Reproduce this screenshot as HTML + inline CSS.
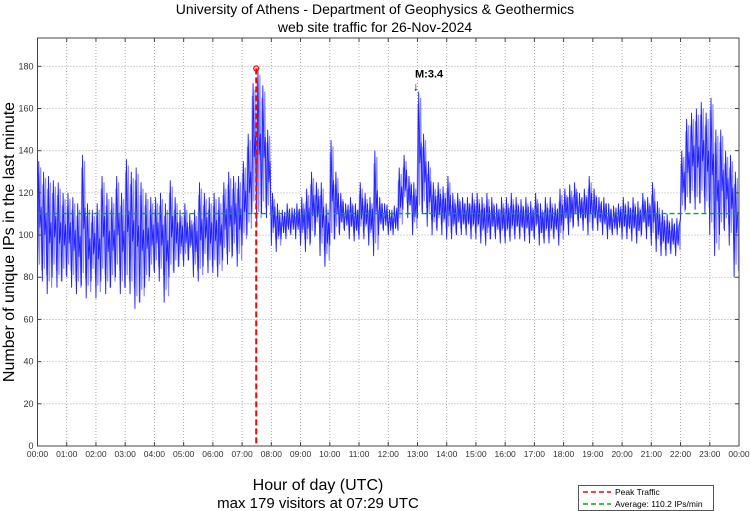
<!DOCTYPE html>
<html><head><meta charset="utf-8"><style>
body{margin:0;background:#fff;}
svg{display:block;font-family:"Liberation Sans",sans-serif;}
</style></head><body>
<svg id="chart" width="750" height="511" viewBox="0 0 750 511">
<rect width="750" height="511" fill="#fff"/>
<text x="375" y="14" text-anchor="middle" font-size="14">University of Athens - Department of Geophysics &amp; Geothermics</text>
<text x="375" y="32" text-anchor="middle" font-size="14">web site traffic for 26-Nov-2024</text>
<g id="grid"></g>
<g id="series"></g>
<g id="overlay"></g>
<rect x="37.5" y="38" width="701.5" height="408" fill="none" stroke="#444" stroke-width="1"/>
<g id="ticks" font-size="9" fill="#333"></g>
<text transform="translate(14,242) rotate(-90)" text-anchor="middle" font-size="16">Number of unique IPs in the last minute</text>
<text x="318" y="490" text-anchor="middle" font-size="16">Hour of day (UTC)</text>
<text x="318" y="508" text-anchor="middle" font-size="15">max 179 visitors at 07:29 UTC</text>
<g>
<rect x="578.5" y="485.5" width="135" height="25" fill="#fff" stroke="#555"/>
<line x1="583" y1="492" x2="611" y2="492" stroke="#f00" stroke-dasharray="5,3" stroke-width="1.5"/>
<text x="615" y="495" font-size="8.5">Peak Traffic</text>
<line x1="583" y1="504" x2="611" y2="504" stroke="#0a0" stroke-dasharray="5,3" stroke-width="1.5"/>
<text x="615" y="507" font-size="8.5">Average: 110.2 IPs/min</text>
</g>
</svg>
<script>
const yTicks=[0,20,40,60,80,100,120,140,160,180];
const xTickLabels=["00:00","01:00","02:00","03:00","04:00","05:00","06:00","07:00","08:00","09:00","10:00","11:00","12:00","13:00","14:00","15:00","16:00","17:00","18:00","19:00","20:00","21:00","22:00","23:00","00:00"];
const hiVals=[135,130,128,126,125,120, 120,118,115,138,115,112, 115,128,120,118,128,120, 136,130,132,125,120,118, 118,120,115,126,118,112, 115,110,112,125,120,118, 120,118,125,130,128,128, 135,148,172,179,171,150, 120,115,112,115,113,115, 118,122,130,125,125,115, 145,130,120,115,118,115, 125,120,118,140,118,115, 112,114,132,138,128,125, 168,148,135,125,125,123, 128,120,120,118,118,120, 120,118,120,118,115,118, 118,120,118,117,118,116, 120,115,118,118,115,122, 122,124,125,120,122,128, 122,118,118,115,114,115, 118,116,118,116,120,118, 125,116,112,110,108,108, 140,155,158,160,163,158, 165,150,150,140,138,130];
const loVals=[80,78,72,80,75,78, 80,75,72,76,70,78, 70,78,72,75,80,72, 75,72,65,68,75,80, 82,78,68,80,82,85, 85,88,80,78,85,82, 82,80,88,86,90,85, 95,100,110,105,110,108, 95,92,98,98,100,98, 95,92,96,100,90,85, 95,98,100,102,98,97, 98,98,95,90,100,102, 100,100,102,112,108,100, 108,110,104,100,102,100, 98,98,100,100,100,98, 98,96,95,98,98,96, 96,97,98,98,97,96, 98,95,96,96,98,95, 102,100,104,104,102,100, 102,102,100,98,100,100, 98,98,97,96,100,98, 95,92,90,90,91,90, 108,112,115,112,115,110, 100,90,100,102,95,80];
const averageVal=110.2;
const peakVal=179, peakMin=449;
const quakeMin=777, quakeVal=168;
const NS="http://www.w3.org/2000/svg";
const X0=37.5,X1=739,Y0=446,Y180=66.3;
const xs=m=>X0+(X1-X0)*m/1440;
const ys=v=>Y0-(Y0-Y180)*v/180;
function mk(tag,attrs,parent){const e=document.createElementNS(NS,tag);for(const k in attrs)e.setAttribute(k,attrs[k]);parent.appendChild(e);return e;}
const grid=document.getElementById('grid'),ticks=document.getElementById('ticks'),series=document.getElementById('series'),ov=document.getElementById('overlay');
yTicks.forEach(v=>{
 const g=mk('line',{x1:X0,x2:X1,y1:ys(v),y2:ys(v),stroke:'#999','stroke-dasharray':'1,2','stroke-width':0.8},grid);
 
 
 const t=mk('text',{x:X0-4,y:ys(v)+3,'text-anchor':'end'},ticks);t.textContent=v;
 
 
 mk('line',{x1:X0,x2:X0+4,y1:ys(v),y2:ys(v),stroke:'#444'},ticks);
 mk('line',{x1:X1-4,x2:X1,y1:ys(v),y2:ys(v),stroke:'#444'},ticks);
});
xTickLabels.forEach((l,i)=>{
 const x=xs(i*60);
 const g=mk('line',{x1:x,x2:x,y1:38,y2:Y0,stroke:'#999','stroke-dasharray':'1,2','stroke-width':0.8},grid);
 
 
 mk('line',{x1:x,x2:x,y1:Y0-4,y2:Y0,stroke:'#444'},ticks);
 mk('line',{x1:x,x2:x,y1:38,y2:42,stroke:'#444'},ticks);
 const t=mk('text',{x:x,y:457,'text-anchor':'middle','font-size':8.5},ticks);t.textContent=l;
 
 
});
let pts=[],pts2=[];
hiVals.forEach((h,i)=>{
 const lo=loVals[i];
 pts.push(xs(i*10)+','+ys(lo));pts.push(xs(i*10+2.5)+','+ys(h));
 pts.push(xs(i*10+5)+','+ys((lo+h)/2-4));pts.push(xs(i*10+7.5)+','+ys((lo+h)/2+6));
 pts2.push(xs(i*10+1)+','+ys(h-6));pts2.push(xs(i*10+4)+','+ys(lo+6));pts2.push(xs(i*10+6.5)+','+ys(h-3));pts2.push(xs(i*10+9)+','+ys(lo+3));
});
const p2=mk('polyline',{points:pts2.join(' '),fill:'none',stroke:'#8c8cff','stroke-width':1.2},series);


const p1=mk('polyline',{points:pts.join(' '),fill:'none',stroke:'#2020ff','stroke-width':0.9},series);


const av=mk('line',{x1:X0,x2:X1,y1:ys(averageVal),y2:ys(averageVal),stroke:'#00b000','stroke-dasharray':'5,3','stroke-width':1.3},ov);


const pk=mk('line',{x1:xs(peakMin),x2:xs(peakMin),y1:ys(peakVal),y2:Y0,stroke:'#f00','stroke-dasharray':'6,3','stroke-width':2},ov);


const pc=mk('circle',{cx:xs(peakMin),cy:ys(peakVal),r:2.5,fill:'none',stroke:'#f00','stroke-width':1.2},ov);


const qt=mk('text',{x:xs(quakeMin)-1,y:ys(quakeVal)-14,'font-size':11,'font-weight':'bold'},ov);qt.textContent='M:3.4';


const qa=mk('text',{x:xs(quakeMin)-3,y:ys(quakeVal)-1,'font-size':12},ov);qa.textContent='↓';


</script>
</body></html>
